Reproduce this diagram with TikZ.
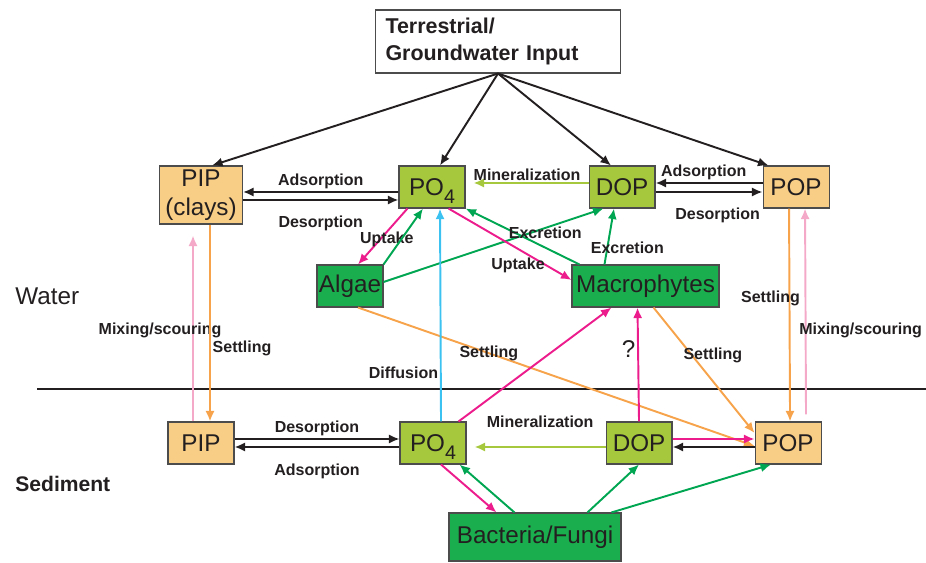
\documentclass[tikz,border=0pt]{standalone}
\usepackage{fontspec}
\setmainfont{Liberation Sans}
\usetikzlibrary{arrows.meta, positioning}

\definecolor{boxorange}{HTML}{F8CD86}
\definecolor{boxlime}{HTML}{A6C83C}
\definecolor{boxgreen}{HTML}{1BAE4E}
\definecolor{arrpink}{HTML}{EC1C8C}
\definecolor{arrorange}{HTML}{F6A34B}
\definecolor{arrrose}{HTML}{F4A9C8}
\definecolor{arrcyan}{HTML}{3CC2F0}
\definecolor{arrgreen}{HTML}{00A651}
\definecolor{arrlime}{HTML}{A6C83C}
\definecolor{txtgray}{HTML}{231F20}

\newcommand{\phos}{PO\raisebox{-4.5pt}[0pt][0pt]{\fontsize{11.2}{12}\selectfont 4}}

\begin{document}
\begin{tikzpicture}[
			x=0.02cm, y=-0.02cm,
			>={Latex[length=6pt,width=5.2pt]},
			every node/.style={text=txtgray},
			pool/.style={draw=black!70, line width=0.6pt, minimum width=1.32cm, minimum height=0.84cm, inner sep=1pt, font=\fontsize{13.8}{16.2}\selectfont},
			inorg/.style={pool, fill=boxorange},
			dissolved/.style={pool, fill=boxlime},
			biota/.style={pool, fill=boxgreen},
			flux/.style={line width=1.1pt, draw=txtgray},
			lbl/.style={font=\fontsize{9.1}{10}\selectfont\bfseries, inner sep=1pt, text=txtgray}
			]
			\useasboundingbox (0,0) rectangle (926,563);
			
			% --- Pools in the water column ---
			\node[draw=black!70, line width=0.6pt, fill=white, align=left, text width=4.5cm, inner xsep=0.2cm, minimum height=1.26cm, font=\fontsize{12.2}{15.7}\selectfont\bfseries] (input) at (498,41.5) {Terrestrial/\\Groundwater Input}; % Source
			\node[inorg, minimum width=1.66cm, minimum height=1.16cm, align=center] (pipw) at (201,195) {PIP\\(clays)};
			\node[dissolved] (po4w) at (432,187) {\phos};
			\node[dissolved, right=2.46cm of po4w] (dopw) {DOP};
			\node[inorg, right=2.14cm of dopw] (popw) {POP};
			\node[biota] (algae) at (350,286) {Algae};
			\node[biota, minimum width=2.94cm] (macro) at (645.5,286) {Macrophytes};
			
			% --- Pools in the sediment ---
			\node[inorg] (pips) at (201,443) {PIP};
			\node[dissolved, right=3.3cm of pips] (po4s) {\phos};
			\node[dissolved, right=2.78cm of po4s] (dops) {DOP};
			\node[inorg, right=1.64cm of dops] (pops) {POP};
			\node[biota, minimum width=3.44cm, minimum height=0.96cm] (bact) at (535,537) {Bacteria/Fungi};
			
			% --- Water / sediment boundary ---
			\draw[line width=0.6pt, txtgray] (37,389) -- (926,389);
			\node[anchor=west, inner sep=0pt, font=\fontsize{13.8}{16}\selectfont] (water) at (15,296) {Water};
			\node[anchor=west, inner sep=0pt, font=\fontsize{12}{14}\selectfont\bfseries] (sediment) at (15,484) {Sediment};
			
			% --- External input ---
			\foreach \dest/\dx in {pipw.north/0.22cm, po4w.north/0.16cm, dopw.north/-0.22cm, popw.north west/0.12cm}
				\draw[->, flux] (input.south) -- ([xshift=\dx]\dest);
			
			% --- Exchange in the water column ---
			\draw[->, flux] ([yshift=-0.1cm]po4w.west) -- node[lbl, above] {Adsorption} ([yshift=0.06cm]pipw.east);
			\draw[->, flux] ([yshift=-0.1cm]pipw.east) -- node[lbl, below=0.27cm] {Desorption} ([yshift=-0.26cm]po4w.west);
			\draw[->, flux, arrlime, shorten >=0.16cm] ([yshift=0.08cm]dopw.west) -- node[lbl, above] {Mineralization} ([yshift=0.08cm]po4w.east);
			\draw[->, flux] ([yshift=0.08cm]popw.west) -- node[lbl, above, pos=0.55] {Adsorption} ([yshift=0.08cm]dopw.east);
			\draw[->, flux] ([yshift=-0.1cm]dopw.east) -- node[lbl, below=0.27cm, pos=0.58] {Desorption} ([yshift=-0.1cm]popw.west);
			
			% --- Uptake and excretion ---
			\draw[->, flux, arrpink] ([xshift=0.18cm]po4w.south west) -- node[lbl, pos=0.56, xshift=0.14cm] {Uptake} ([xshift=0.16cm]algae.north);
			\draw[->, flux, arrgreen] (algae.north east) -- ([xshift=-0.18cm]po4w.south);
			\draw[->, flux, arrgreen] ([yshift=0.08cm]algae.east) -- ([xshift=0.3cm]dopw.south west);
			\draw[->, flux, arrpink] ([xshift=-0.34cm]po4w.south east) -- node[lbl, pos=0.565, below=0.12cm] {Uptake} ([yshift=0.12cm]macro.west);
			\draw[->, flux, arrgreen] ([xshift=0.16cm]macro.north west) -- node[lbl, pos=0.3, above=0.12cm] {Excretion} (po4w.south east);
			\draw[->, flux, arrgreen] ([xshift=0.66cm]macro.north west) -- node[lbl, pos=0.3, xshift=0.4cm] {Excretion} ([xshift=-0.16cm]dopw.south);
			
			% --- Settling and mixing ---
			\draw[->, flux, arrrose, shorten >=0.22cm] ([xshift=-0.16cm]pips.north) -- node[lbl, pos=0.46, xshift=-0.66cm] {Mixing/scouring} ([xshift=-0.16cm]pipw.south);
			\draw[->, flux, arrorange] ([xshift=0.18cm]pipw.south) -- node[lbl, pos=0.63, right] {Settling} ([xshift=0.18cm]pips.north);
			\draw[->, flux, arrorange] ([xshift=-0.14cm]popw.south) -- node[lbl, pos=0.42, xshift=-0.38cm] {Settling} ([xshift=0.04cm]pops.north);
			\draw[->, flux, arrrose, shorten <=0.14cm] ([xshift=0.36cm]pops.north) -- node[lbl, pos=0.43, xshift=1.1cm] {Mixing/scouring} ([xshift=0.18cm]popw.south);
			\draw[->, flux, arrorange] ([xshift=0.16cm]algae.south) -- node[lbl, pos=0.33] {Settling} ([yshift=-0.06cm]pops.west);
			\draw[->, flux, arrorange] ([xshift=0.16cm]macro.south) -- node[lbl, pos=0.38, xshift=0.42cm] {Settling} ([yshift=0.2cm]pops.west);
			
			% --- Diffusion and sediment fluxes ---
			\draw[->, flux, arrcyan] ([xshift=0.16cm]po4s.north) -- node[lbl, pos=0.23, left] {Diffusion} ([xshift=0.16cm]po4w.south);
			\draw[->, flux, arrpink] (dops.north) -- node[pos=0.64, left, inner sep=1pt, font=\fontsize{13.8}{16}\selectfont] {?} ([xshift=-0.16cm]macro.south);
			\draw[->, flux, arrpink] ([xshift=-0.16cm]po4s.north east) -- ([xshift=0.8cm]macro.south west);
			\draw[->, flux, arrpink] ([yshift=0.08cm]dops.east) -- ([yshift=0.08cm]pops.west);
			\draw[->, flux] ([yshift=-0.08cm]pops.west) -- ([yshift=-0.08cm]dops.east);
			\draw[->, flux, arrlime, shorten >=0.16cm] ([yshift=-0.08cm]dops.west) -- node[lbl, pos=0.47, above=0.33cm] {Mineralization} ([yshift=-0.08cm]po4s.east);
			\draw[->, flux] ([yshift=0.08cm]pips.east) -- node[lbl, above] {Desorption} ([yshift=0.08cm]po4s.west);
			\draw[->, flux] ([yshift=-0.08cm]po4s.west) -- node[lbl, below=0.29cm] {Adsorption} ([yshift=-0.08cm]pips.east);
			
			% --- Bacteria/Fungi ---
			\draw[->, flux, arrpink] ([xshift=0.16cm]po4s.south) -- ([xshift=0.96cm]bact.north west);
			\draw[->, flux, arrgreen] ([xshift=1.32cm]bact.north west) -- ([xshift=-0.14cm]po4s.south east);
			\draw[->, flux, arrgreen] ([xshift=2.78cm]bact.north west) -- (dops.south);
			\draw[->, flux, arrgreen] ([xshift=3.26cm]bact.north west) -- ([xshift=-0.34cm]pops.south);
			
		\end{tikzpicture}
\end{document}
